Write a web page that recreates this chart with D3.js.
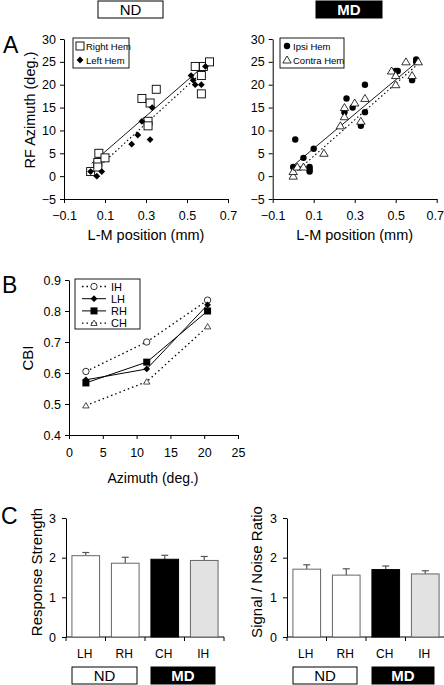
<!DOCTYPE html>
<html><head><meta charset="utf-8">
<script src="https://cdn.jsdelivr.net/npm/d3@7"></script>
<style>body{margin:0;background:#fff}svg{display:block;font-family:"Liberation Sans",Arial,sans-serif}</style>
</head><body>
<script>
// ---------- Data ----------
// Panel A (ND)
const ndRight = [[0.03,1],[0.065,3],[0.065,2],[0.07,5],[0.1,4],[0.28,17],[0.32,16],[0.35,19],[0.31,12],[0.31,11],[0.54,24],[0.58,24],[0.61,25],[0.57,22],[0.57,18]];
const ndLeft  = [[0.03,1],[0.084,1],[0.06,0],[0.28,12],[0.33,15],[0.26,9],[0.23,7],[0.32,8],[0.52,22],[0.53,21],[0.54,20],[0.57,20],[0.59,24]];
const ndRightFit = [[0.035,2.8],[0.61,25.2]];
const ndLeftFit  = [[0.035,0.6],[0.59,23.4]];
// Panel A (MD)
const mdIpsi = [[0,2],[0.01,8],[0.05,4],[0.08,2],[0.08,1.5],[0.08,1],[0.1,6],[0.25,14],[0.26,17],[0.29,15],[0.33,11],[0.35,20],[0.35,14],[0.5,23],[0.51,23],[0.58,21],[0.6,25],[0.6,25.5]];
const mdContra = [[0,0],[0,1],[0.02,2],[0.05,2],[0.15,5],[0.23,11],[0.25,15],[0.25,13],[0.3,16],[0.33,12],[0.35,17],[0.48,23],[0.5,22],[0.5,20],[0.55,25],[0.58,22],[0.61,25]];
const mdIpsiFit = [[0,2.3],[0.61,25.2]];
const mdContraFit = [[0.02,1.2],[0.6,24.2]];
const mdIpsiStep = [[0,2],[0.08,2]];
const xTicksA = [-0.1,0.1,0.3,0.5,0.7];
const yTicksA = [-5,0,5,10,15,20,25,30];
// Panel B
const azimuth = [2.5,11.5,20.5];
const cbiIH = [0.605,0.70,0.835];
const cbiLH = [0.578,0.613,0.82];
const cbiRH = [0.568,0.635,0.80];
const cbiCH = [0.495,0.572,0.75];
const xTicksB = [0,5,10,15,20,25];
const yTicksB = [0.4,0.5,0.6,0.7,0.8,0.9];
// Panel C
const groups = ["LH","RH","CH","IH"];
const respMean = [2.05,1.86,1.96,1.93];
const respErr  = [0.08,0.15,0.10,0.10];
const snrMean  = [1.71,1.56,1.70,1.59];
const snrErr   = [0.11,0.16,0.09,0.08];
const yTicksC = [0,1,2,3];

const W=444,H=685;
const svg=d3.select("body").append("svg").attr("width",W).attr("height",H);
svg.append("rect").attr("width",W).attr("height",H).attr("fill","#fff");

function label(x,y,t,size,opts={}){
  const e=svg.append("text").attr("x",x).attr("y",y).text(t).attr("font-size",size).attr("fill",opts.fill||"#000");
  if(opts.anchor) e.attr("text-anchor",opts.anchor);
  if(opts.weight) e.attr("font-weight",opts.weight);
  if(opts.rotate) e.attr("transform",`rotate(-90,${x},${y})`);
  return e;
}
function tagBox(x,y,w,h,t,black){
  svg.append("rect").attr("x",x).attr("y",y).attr("width",w).attr("height",h)
    .attr("fill",black?"#000":"#fff").attr("stroke","#000").attr("stroke-width",1);
  label(x+w/2,y+h/2+5.5,t,15,{anchor:"middle",fill:black?"#fff":"#000",weight:black?"bold":"normal"});
}
function styleAxis(g){
  g.selectAll("path,line").attr("stroke","#000").attr("stroke-width",1);
  g.selectAll("text").attr("font-family","'Liberation Sans',Arial,sans-serif").attr("fill","#000");
}
function marker(g,type,x,y){
  if(type==="square") g.append("rect").attr("x",x-4).attr("y",y-4).attr("width",8).attr("height",8).attr("fill","#fff").attr("stroke","#000").attr("stroke-width",0.9);
  else if(type==="squareF") g.append("rect").attr("x",x-3.5).attr("y",y-3.5).attr("width",7).attr("height",7).attr("fill","#000");
  else if(type==="diamond") g.append("path").attr("d",`M${x},${y-3.4}L${x+3.4},${y}L${x},${y+3.4}L${x-3.4},${y}Z`).attr("fill","#000");
  else if(type==="circleF") g.append("circle").attr("cx",x).attr("cy",y).attr("r",3.2).attr("fill","#000");
  else if(type==="circleO") g.append("circle").attr("cx",x).attr("cy",y).attr("r",3.2).attr("fill","#fff").attr("stroke","#000").attr("stroke-width",0.8);
  else if(type==="tri") g.append("path").attr("d",`M${x},${y-4}L${x+4.2},${y+3}L${x-4.2},${y+3}Z`).attr("fill","#fff").attr("stroke","#000").attr("stroke-width",0.8);
  else if(type==="triS") g.append("path").attr("d",`M${x},${y-3}L${x+3.2},${y+2.4}L${x-3.2},${y+2.4}Z`).attr("fill","#fff").attr("stroke","#000").attr("stroke-width",0.7);
}

// ---------- Top tags ----------
tagBox(98,1,65,17,"ND",false);
tagBox(316,1,66,17,"MD",true);

// ---------- Panel A ----------
const yA=d3.scaleLinear().domain([-5,30]).range([199,39]);
function panelA(x0,x1,sets,fits,legend){
  const xA=d3.scaleLinear().domain([-0.1,0.7]).range([x0,x1]);
  const gx=svg.append("g").attr("transform",`translate(0,${yA(-5)})`)
    .call(d3.axisBottom(xA).tickValues(xTicksA).tickSize(4).tickPadding(8).tickSizeOuter(0).tickFormat(d=>d3.format(".1f")(d)));
  gx.selectAll("text").attr("font-size",12.5);
  styleAxis(gx);
  if(x1>430) gx.selectAll(".tick:last-of-type text").attr("dx",-2);
  const gy=svg.append("g").attr("transform",`translate(${x0},0)`)
    .call(d3.axisLeft(yA).tickValues(yTicksA).tickSize(4).tickPadding(4).tickSizeOuter(0));
  gy.selectAll("text").attr("font-size",12.5);
  styleAxis(gy);
  const line=d3.line().x(d=>xA(d[0])).y(d=>yA(d[1]));
  fits.forEach(f=>{
    svg.append("path").attr("d",line(f.d)).attr("fill","none").attr("stroke","#000").attr("stroke-width",f.dash?1.1:0.9)
      .attr("stroke-dasharray",f.dash?"1.5,2.5":null);
  });
  const g=svg.append("g");
  sets.forEach(s=>s.d.forEach(p=>marker(g,s.type,xA(p[0]),yA(p[1]))));
  const L=legend;
  svg.append("rect").attr("x",L.x).attr("y",L.y).attr("width",L.w).attr("height",30).attr("fill","#fff").attr("stroke","#000").attr("stroke-width",0.9);
  L.items.forEach((it,i)=>{
    const yy=L.y+8+i*14;
    marker(svg,it.type,L.x+7,yy);
    label(L.x+13,yy+3.5,it.t,9.5);
  });
  label((x0+x1)/2,240,"L-M position (mm)",14.5,{anchor:"middle"});
}
panelA(64,228,[{type:"square",d:ndRight},{type:"diamond",d:ndLeft}],
  [{d:ndRightFit,dash:false},{d:ndLeftFit,dash:true}],
  {x:73,y:38,w:56,items:[{type:"square",t:"Right Hem"},{type:"diamond",t:"Left Hem"}]});
panelA(272.7,436.7,[{type:"circleF",d:mdIpsi},{type:"tri",d:mdContra}],
  [{d:mdIpsiFit,dash:false},{d:mdContraFit,dash:true},{d:mdIpsiStep,dash:false}],
  {x:280,y:38,w:64,items:[{type:"circleF",t:"Ipsi Hem"},{type:"tri",t:"Contra Hem"}]});
label(30,110,"RF Azimuth (deg.)",14.5,{anchor:"middle",rotate:true}).attr("dy","0.35em");
label(3,53,"A",23);

// ---------- Panel B ----------
const xB=d3.scaleLinear().domain([0,25]).range([69,238]);
const yB=d3.scaleLinear().domain([0.4,0.9]).range([435,280]);
{
  const gx=svg.append("g").attr("transform",`translate(0,${yB(0.4)})`)
    .call(d3.axisBottom(xB).tickValues(xTicksB).tickSize(4).tickPadding(9).tickSizeOuter(0));
  gx.selectAll("text").attr("font-size",12.5);
  styleAxis(gx);
  const gy=svg.append("g").attr("transform",`translate(${xB(0)},0)`)
    .call(d3.axisLeft(yB).tickValues(yTicksB).tickSize(4).tickPadding(4).tickSizeOuter(0).tickFormat(d3.format(".1f")));
  gy.selectAll("text").attr("font-size",12.5);
  styleAxis(gy);
  const series=[
    {v:cbiIH,type:"circleO",dash:true,name:"IH"},
    {v:cbiCH,type:"triS",dash:true,name:"CH"},
    {v:cbiLH,type:"diamond",dash:false,name:"LH"},
    {v:cbiRH,type:"squareF",dash:false,name:"RH"}
  ];
  const line=d3.line().x((d,i)=>xB(azimuth[i])).y(d=>yB(d));
  series.forEach(s=>{
    svg.append("path").attr("d",line(s.v)).attr("fill","none").attr("stroke","#000")
      .attr("stroke-width",s.dash?1.3:1).attr("stroke-dasharray",s.dash?"1.5,3":null);
  });
  series.forEach(s=>s.v.forEach((v,i)=>marker(svg,s.type,xB(azimuth[i]),yB(v))));
  svg.append("rect").attr("x",75).attr("y",279).attr("width",65).attr("height",50).attr("fill","#fff").attr("stroke","#000").attr("stroke-width",0.9);
  const leg=[series[0],series[2],series[3],series[1]];
  leg.forEach((s,i)=>{
    const yy=286.5+i*12.2;
    svg.append("line").attr("x1",82).attr("x2",106).attr("y1",yy).attr("y2",yy).attr("stroke","#000")
      .attr("stroke-width",s.dash?1.3:1).attr("stroke-dasharray",s.dash?"1.5,3":null);
    marker(svg,s.type,94,yy);
    label(111,yy+4,s.name,11);
  });
  label(28,358,"CBI",15,{anchor:"middle",rotate:true}).attr("dy","0.35em");
  label(153,483,"Azimuth (deg.)",14,{anchor:"middle"});
  label(2,293,"B",23);
}

// ---------- Panel C ----------
const yC=d3.scaleLinear().domain([0,3]).range([637,518]);
const fills={LH:"#fff",RH:"#fff",CH:"#000",IH:"#e2e2e2"};
function panelC(r0,r1,means,errs,ytitle,ytx,boxes){
  const x=d3.scaleBand().domain(groups).range([r0,r1]).paddingInner(0.3).paddingOuter(0.15);
  const step=x.step();
  svg.append("line").attr("x1",r0+2).attr("x2",r1+2).attr("y1",yC(0)).attr("y2",yC(0)).attr("stroke","#000");
  d3.range(groups.length+1).forEach(i=>{
    const tx=r0+2+i*step;
    svg.append("line").attr("x1",tx).attr("x2",tx).attr("y1",yC(0)).attr("y2",yC(0)+4).attr("stroke","#000");
  });
  const gy=svg.append("g").attr("transform",`translate(${r0+2},0)`)
    .call(d3.axisLeft(yC).tickValues(yTicksC).tickSize(4).tickPadding(6).tickSizeOuter(0).tickFormat(d3.format("d")));
  gy.selectAll("text").attr("font-size",12.5);
  styleAxis(gy);
  groups.forEach((gname,i)=>{
    const bx=x(gname)+2, bw=x.bandwidth(), cx=bx+bw/2;
    svg.append("line").attr("x1",cx).attr("x2",cx).attr("y1",yC(means[i])).attr("y2",yC(means[i]+errs[i])).attr("stroke","#555").attr("stroke-width",1.2);
    svg.append("line").attr("x1",cx-3.5).attr("x2",cx+3.5).attr("y1",yC(means[i]+errs[i])).attr("y2",yC(means[i]+errs[i])).attr("stroke","#555").attr("stroke-width",1.2);
    svg.append("rect").attr("x",bx).attr("y",yC(means[i])).attr("width",bw).attr("height",yC(0)-yC(means[i]))
      .attr("fill",fills[gname]).attr("stroke",gname==="CH"?"#000":"#666").attr("stroke-width",1);
    label(cx-1,658,gname,12,{anchor:"middle"});
  });
  label(ytx,572,ytitle,15,{anchor:"middle",rotate:true}).attr("dy","0.35em");
  tagBox(boxes[0],667,boxes[1],17,"ND",false);
  tagBox(boxes[2],667,boxes[3],17,"MD",true);
}
panelC(64,222,respMean,respErr,"Response Strength",37,[72,65,151,64]);
panelC(285,443,snrMean,snrErr,"Signal / Noise Ratio",257,[293,64,372,62]);
label(1,524,"C",23);
</script>
</body></html>
